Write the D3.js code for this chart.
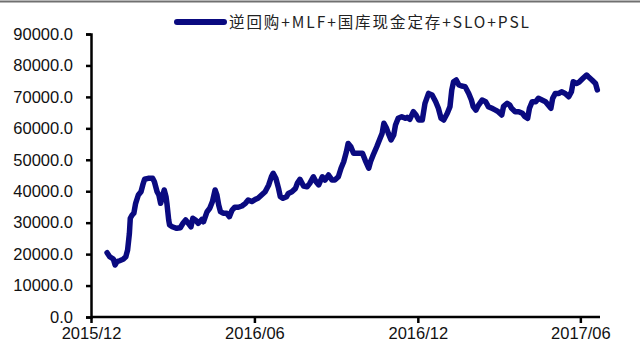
<!DOCTYPE html>
<html>
<head>
<meta charset="utf-8">
<script src="https://cdn.jsdelivr.net/npm/d3@7/dist/d3.min.js"></script>
<style>
html,body{margin:0;padding:0;background:#fff;}
svg{display:block;}
</style>
</head>
<body>
<svg id="chart" width="640" height="353"></svg>
<script>
const seriesName = "逆回购+MLF+国库现金定存+SLO+PSL";
const yTicks = [0,10000,20000,30000,40000,50000,60000,70000,80000,90000];
const xTickLabels = ["2015/12","2016/06","2016/12","2017/06"];
const xTickDates = ["2015-12-01","2016-06-01","2016-12-01","2017-06-01"];
const dates = [
"2015-12-19","2015-12-22","2015-12-26","2015-12-28","2015-12-30","2016-01-02","2016-01-06","2016-01-09","2016-01-11","2016-01-13",
"2016-01-14","2016-01-16","2016-01-18","2016-01-20","2016-01-23","2016-01-26","2016-01-28","2016-01-30","2016-02-03","2016-02-08",
"2016-02-10","2016-02-13","2016-02-15","2016-02-17","2016-02-19","2016-02-21","2016-02-23","2016-02-24","2016-02-26","2016-02-27",
"2016-03-01","2016-03-06","2016-03-10","2016-03-13","2016-03-16","2016-03-19","2016-03-22","2016-03-24","2016-03-27","2016-03-30",
"2016-04-03","2016-04-05","2016-04-09","2016-04-12","2016-04-15","2016-04-18","2016-04-20","2016-04-22","2016-04-24","2016-04-27",
"2016-05-01","2016-05-04","2016-05-07","2016-05-10","2016-05-14","2016-05-18","2016-05-22","2016-05-25","2016-05-29","2016-06-02",
"2016-06-05","2016-06-09","2016-06-13","2016-06-17","2016-06-20","2016-06-22","2016-06-25","2016-06-28","2016-06-30","2016-07-03",
"2016-07-07","2016-07-09","2016-07-13","2016-07-17","2016-07-19","2016-07-22","2016-07-26","2016-07-30","2016-08-02","2016-08-06",
"2016-08-09","2016-08-12","2016-08-16","2016-08-19","2016-08-23","2016-08-27","2016-08-30","2016-09-03","2016-09-06","2016-09-09",
"2016-09-12","2016-09-14","2016-09-17","2016-09-20","2016-09-24","2016-09-27","2016-09-30","2016-10-03","2016-10-07","2016-10-09",
"2016-10-12","2016-10-16","2016-10-19","2016-10-22","2016-10-24","2016-10-27","2016-10-29","2016-11-01","2016-11-04","2016-11-06",
"2016-11-09","2016-11-13","2016-11-17","2016-11-19","2016-11-22","2016-11-26","2016-11-29","2016-12-02","2016-12-06","2016-12-09",
"2016-12-13","2016-12-17","2016-12-21","2016-12-24","2016-12-27","2016-12-30","2017-01-03","2017-01-06","2017-01-08","2017-01-10",
"2017-01-13","2017-01-16","2017-01-19","2017-01-23","2017-01-27","2017-01-30","2017-02-01","2017-02-04","2017-02-07","2017-02-11",
"2017-02-15","2017-02-18","2017-02-22","2017-02-26","2017-03-01","2017-03-05","2017-03-07","2017-03-11","2017-03-14","2017-03-16",
"2017-03-20","2017-03-24","2017-03-28","2017-03-31","2017-04-03","2017-04-05","2017-04-08","2017-04-12","2017-04-15","2017-04-19",
"2017-04-23","2017-04-26","2017-04-29","2017-05-01","2017-05-04","2017-05-08","2017-05-11","2017-05-15","2017-05-19","2017-05-22",
"2017-05-24","2017-05-28","2017-05-31","2017-06-04","2017-06-08","2017-06-10","2017-06-14","2017-06-18","2017-06-20"
];
const values = [
20450,19180,18440,16540,17590,17900,18350,19180,21300,26600,
31400,32400,33000,36150,38800,39850,42000,43800,44100,44100,
43000,39850,38800,36150,38250,40400,38250,36150,30850,29250,
28700,28200,28400,29800,30850,29800,28700,31400,30850,29800,
31000,30300,33500,34560,36700,40400,38800,35600,33500,33000,
33000,31900,34000,34900,34900,35300,36150,37200,36700,37400,
37750,38800,39850,42000,44600,45700,44100,40900,38250,37750,
38250,39300,39850,40900,42500,43800,41650,41400,42500,44600,
43000,42000,44600,43550,45150,43550,43550,44600,47300,49400,
52550,55200,54150,52050,52050,52050,52050,49900,47300,49400,
51500,54150,56300,58400,61600,60000,58400,56300,57900,61050,
63200,63700,63200,63500,62870,65300,64250,62650,62650,67950,
71100,70600,68470,66370,63200,62650,64780,66900,72200,74800,
75370,73780,73460,73250,71100,69000,66900,65800,67400,69000,
68470,66900,66370,65800,65300,64250,67000,67950,67400,66370,
65300,65300,64780,63700,63200,66370,68470,68470,69550,69000,
68470,67400,66370,69550,71100,71100,71650,71100,70050,71650,
74800,74270,74800,75900,76950,76400,75370,74270,72200
];

const parse = d3.timeParse("%Y-%m-%d");
const data = dates.map((d,i)=>({date:parse(d), value:values[i]}));

const svg = d3.select("#chart");
const font = "'Liberation Sans', Arial, sans-serif";

// top border
svg.append("line").attr("x1",0).attr("x2",640).attr("y1",1.5).attr("y2",1.5)
  .attr("stroke","#707070").attr("stroke-width",2);

const x = d3.scaleTime().domain([parse("2015-12-01"), parse("2017-06-23")]).range([91,600]);
const y = d3.scaleLinear().domain([0,90000]).range([317,34]);

// y axis
const yAxis = d3.axisLeft(y).tickValues(yTicks).tickFormat(d3.format(".1f")).tickSize(5).tickPadding(13);
const gy = svg.append("g").attr("transform","translate(91,0)").call(yAxis);
gy.select(".domain").attr("stroke","#000").attr("stroke-width",2.5);
gy.selectAll(".tick line").attr("stroke","#000").attr("stroke-width",2.5);
gy.selectAll(".tick text").attr("font-family",font).attr("font-size",16.5).attr("fill","#111");

// x axis
const xAxis = d3.axisBottom(x).tickValues(xTickDates.map(parse))
  .tickFormat((d,i)=>xTickLabels[i]).tickSize(6).tickPadding(4);
const gx = svg.append("g").attr("transform","translate(0,317)").call(xAxis);
gx.select(".domain").attr("stroke","#000").attr("stroke-width",2.5).attr("d","M91,0H600");
gx.selectAll(".tick line").attr("stroke","#000").attr("stroke-width",2.5);
gx.selectAll(".tick text").attr("font-family",font).attr("font-size",16.5).attr("fill","#111");

// line
const line = d3.line().x(d=>x(d.date)).y(d=>y(d.value)).curve(d3.curveLinear);
svg.append("path").datum(data).attr("d",line).attr("fill","none")
  .attr("stroke","#0a0a80").attr("stroke-width",5.5).attr("stroke-linejoin","round").attr("stroke-linecap","round");

// legend
svg.append("line").attr("x1",177).attr("x2",224).attr("y1",22).attr("y2",22)
  .attr("stroke","#0a0a80").attr("stroke-width",6).attr("stroke-linecap","round");
svg.append("text").attr("x",229).attr("y",28).attr("font-family","'Noto Sans CJK SC', "+font)
  .attr("font-size",15.5).attr("fill","#222")
  .attr("textLength",300).attr("lengthAdjust","spacing").text(seriesName);
</script>
</body>
</html>
